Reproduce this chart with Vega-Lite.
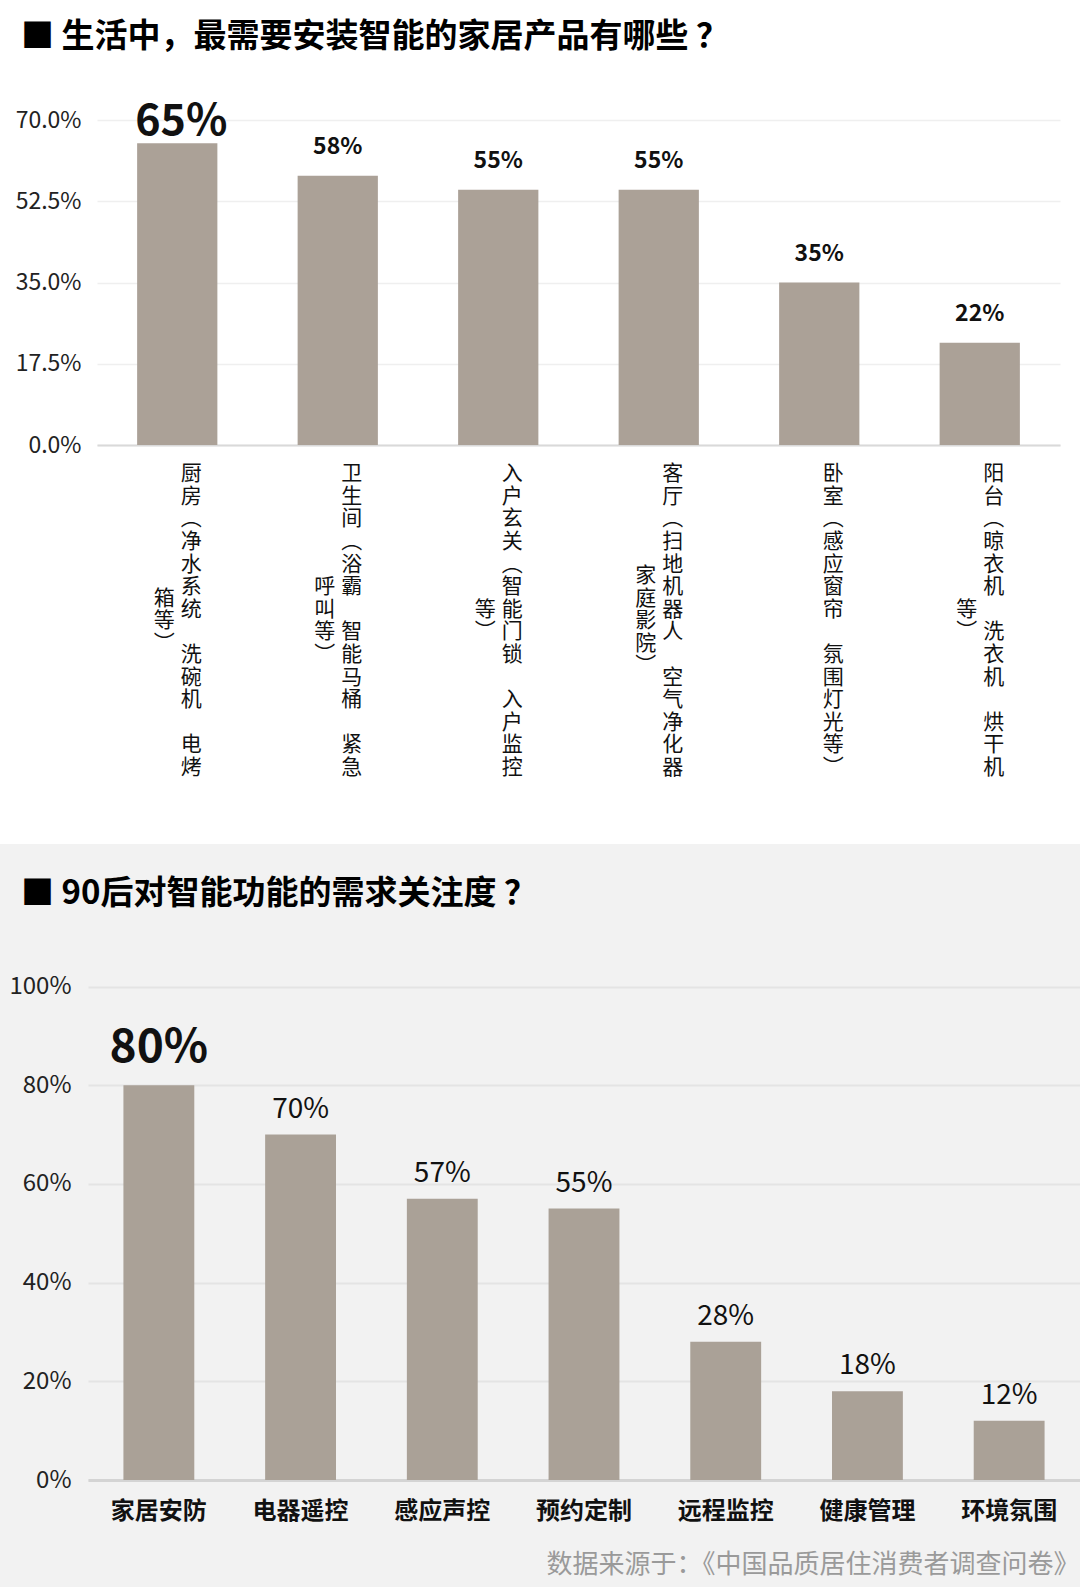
{
  "$schema": "https://vega.github.io/schema/vega-lite/v6.json",
  "padding": {"top": 21, "left": 0, "right": 0, "bottom": 0},
  "background": "#ffffff",
  "spacing": 0,
  "config": {"view": {"stroke": null}, "font": "Noto Sans CJK SC"},
  "vconcat": [
    {
      "width": 1060,
      "height": 724,
      "view": {"fill": "#ffffff", "stroke": null},
      "title": {"text": "■ 生活中，最需要安装智能的家居产品有哪些 ？", "anchor": "start", "frame": "group", "dx": 21, "offset": 47, "fontSize": 33, "fontWeight": "bold", "color": "#000000", "font": "Noto Sans CJK SC"},
      "data": {"values": [
        {"room": "厨房", "share": 0.65, "col1": "厨房︵净水系统　洗碗机　电烤", "col2": "箱等︶"},
        {"room": "卫生间", "share": 0.58, "col1": "卫生间︵浴霸　智能马桶　紧急", "col2": "呼叫等︶"},
        {"room": "入户玄关", "share": 0.55, "col1": "入户玄关︵智能门锁　入户监控", "col2": "等︶"},
        {"room": "客厅", "share": 0.55, "col1": "客厅︵扫地机器人　空气净化器", "col2": "家庭影院︶"},
        {"room": "卧室", "share": 0.35, "col1": "卧室︵感应窗帘　氛围灯光等︶", "col2": ""},
        {"room": "阳台", "share": 0.22, "col1": "阳台︵晾衣机　洗衣机　烘干机", "col2": "等︶"}
      ]},
      "encoding": {
        "x": {"field": "room", "type": "nominal", "sort": null,
          "scale": {"range": [97, 1060], "paddingInner": 0.5, "paddingOuter": 0.25},
          "axis": {"orient": "bottom", "offset": -399, "labels": false, "ticks": false, "tickSize": 0, "domainColor": "#d9d9d9", "domainWidth": 2, "title": null}}
      },
      "layer": [
        {
          "mark": {"type": "bar", "color": "#aba197"},
          "encoding": {
            "y": {"field": "share", "type": "quantitative", "scale": {"domain": [0, 0.7], "range": [325, 0], "nice": false},
              "axis": {"values": [0, 0.175, 0.35, 0.525, 0.7], "format": ".1%", "title": null, "offset": -97, "labelFontSize": 23, "labelColor": "#222222", "labelPadding": 16, "ticks": false, "tickSize": 0, "domain": false, "grid": true, "gridColor": "#efefef", "gridWidth": 1.5}}
          }
        },
        {
          "transform": [
            {"joinaggregate": [{"op": "max", "field": "share", "as": "maxShare"}]},
            {"filter": "datum.share < datum.maxShare"}
          ],
          "mark": {"type": "text", "fontSize": 23, "fontWeight": "bold", "baseline": "middle", "dy": -29, "color": "#111111"},
          "encoding": {
            "y": {"field": "share", "type": "quantitative"},
            "text": {"field": "share", "type": "quantitative", "format": ".0%"}
          }
        },
        {
          "transform": [
            {"joinaggregate": [{"op": "max", "field": "share", "as": "maxShare"}]},
            {"filter": "datum.share === datum.maxShare"}
          ],
          "mark": {"type": "text", "fontSize": 43, "fontWeight": "bold", "baseline": "middle", "dy": -21, "dx": 4, "color": "#111111"},
          "encoding": {
            "y": {"field": "share", "type": "quantitative"},
            "text": {"field": "share", "type": "quantitative", "format": ".0%"}
          }
        },
        {
          "mark": {"type": "text", "fontSize": 21, "lineHeight": 22.6, "baseline": "middle", "dx": 14, "color": "#111111", "text": {"expr": "split(replace(datum.col1, regexp('　', 'g'), '⠀'), '')"}},
          "encoding": {
            "y": {"datum": -0.063, "type": "quantitative"}
          }
        },
        {
          "transform": [{"filter": "datum.col2 !== ''"}],
          "mark": {"type": "text", "fontSize": 21, "lineHeight": 22.6, "baseline": "middle", "dx": -13, "color": "#111111", "text": {"expr": "split(datum.col2, '')"}, "dy": {"expr": "(14 - length(datum.col2)) * 11.3"}},
          "encoding": {
            "y": {"datum": -0.063, "type": "quantitative"}
          }
        }
      ]
    },
    {
      "width": 1080,
      "height": 743,
      "view": {"fill": "#f2f2f2", "stroke": null},
      "title": {"text": "■ 90后对智能功能的需求关注度 ？", "anchor": "start", "frame": "group", "dx": 21, "offset": -67, "fontSize": 33, "fontWeight": "bold", "color": "#000000", "font": "Noto Sans CJK SC"},
      "data": {"values": [
        {"func": "家居安防", "share": 0.80},
        {"func": "电器遥控", "share": 0.70},
        {"func": "感应声控", "share": 0.57},
        {"func": "预约定制", "share": 0.55},
        {"func": "远程监控", "share": 0.28},
        {"func": "健康管理", "share": 0.18},
        {"func": "环境氛围", "share": 0.12}
      ]},
      "encoding": {
        "x": {"field": "func", "type": "nominal", "sort": null, "title": "数据来源于：《中国品质居住消费者调查问卷》",
          "scale": {"range": [88, 1080], "paddingInner": 0.5, "paddingOuter": 0.25},
          "axis": {"orient": "bottom", "offset": -107, "labelAngle": 0, "labelFontSize": 24, "labelFontWeight": "bold", "labelColor": "#111111", "labelPadding": 19, "ticks": false, "tickSize": 0, "domainColor": "#d4d4d4", "domainWidth": 3, "titleX": 1079, "titleY": 84, "titleAlign": "right", "titleBaseline": "middle", "titleFontSize": 26, "titleFontWeight": "normal", "titleColor": "#9a9a9a"}}
      },
      "layer": [
        {
          "mark": {"type": "bar", "color": "#aaa197"},
          "encoding": {
            "y": {"field": "share", "type": "quantitative", "scale": {"domain": [0, 1], "range": [636, 142.5], "nice": false},
              "axis": {"values": [0, 0.2, 0.4, 0.6, 0.8, 1], "format": ".0%", "title": null, "offset": -77, "labelPadding": 6, "labelFontSize": 24, "labelColor": "#222222", "ticks": false, "tickSize": 0, "domain": false, "grid": true, "gridColor": "#e4e4e4", "gridWidth": 2}}
          }
        },
        {
          "transform": [
            {"joinaggregate": [{"op": "max", "field": "share", "as": "maxShare"}]},
            {"filter": "datum.share < datum.maxShare"}
          ],
          "mark": {"type": "text", "fontSize": 28, "baseline": "middle", "dy": -25, "color": "#111111"},
          "encoding": {
            "y": {"field": "share", "type": "quantitative"},
            "text": {"field": "share", "type": "quantitative", "format": ".0%"}
          }
        },
        {
          "transform": [
            {"joinaggregate": [{"op": "max", "field": "share", "as": "maxShare"}]},
            {"filter": "datum.share === datum.maxShare"}
          ],
          "mark": {"type": "text", "fontSize": 46, "fontWeight": "bold", "baseline": "middle", "dy": -37, "color": "#111111"},
          "encoding": {
            "y": {"field": "share", "type": "quantitative"},
            "text": {"field": "share", "type": "quantitative", "format": ".0%"}
          }
        }
      ]
    }
  ]
}
